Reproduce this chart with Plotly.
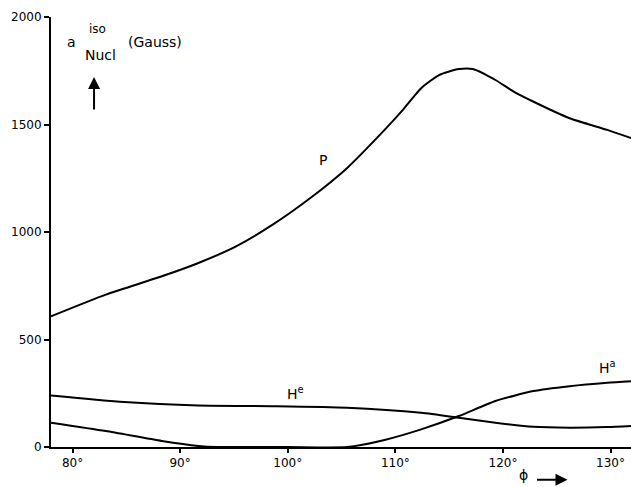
import plotly.graph_objects as go

# phi angle (degrees)
phi_P = [78.0, 83.1, 88.3, 91.7, 95.2, 98.6, 102.1, 105.5, 109.0, 110.7, 112.4, 114.1, 115.9, 117.2, 119.3, 121.0, 122.8, 126.2, 129.7, 131.9]
a_P = [608, 709, 794, 856, 933, 1034, 1158, 1297, 1475, 1568, 1669, 1731, 1758, 1758, 1707, 1653, 1607, 1529, 1475, 1437]

phi_He = [78.0, 84.8, 91.7, 98.6, 105.5, 112.4, 115.9, 119.3, 122.8, 126.2, 129.7, 131.9]
a_He = [240, 209, 193, 190, 183, 159, 136, 113, 94, 90, 93, 98]

phi_Ha = [78.0, 83.1, 88.3, 91.7, 93.4, 100.0, 105.5, 109.0, 112.4, 115.9, 119.3, 122.8, 126.2, 129.7, 131.9]
a_Ha = [113, 74, 28, 5, 0, 0, 0, 33, 82, 144, 214, 260, 283, 299, 306]

x_ticks = [80, 90, 100, 110, 120, 130]
x_ticklabels = ["80°", "90°", "100°", "110°", "120°", "130°"]
y_ticks = [0, 500, 1000, 1500, 2000]

FONT = "DejaVu Sans"
line = dict(color="black", width=2, shape="spline", smoothing=0.6)

fig = go.Figure()
fig.add_trace(go.Scatter(x=phi_P, y=a_P, mode="lines", line=line, name="P"))
fig.add_trace(go.Scatter(x=phi_He, y=a_He, mode="lines", line=line, name="He"))
fig.add_trace(go.Scatter(x=phi_Ha, y=a_Ha, mode="lines", line=line, name="Ha"))

tf = dict(family=FONT, size=12, color="black")
ann = []
def txt(x, y, t, size=12, xref="x", yref="y", xanchor="center", yanchor="middle"):
    ann.append(dict(x=x, y=y, xref=xref, yref=yref, text=t, showarrow=False,
                    font=dict(family=FONT, size=size, color="black"), xanchor=xanchor, yanchor=yanchor))

txt(103.3, 1336, "P", 14)
txt(100.7, 250, "H<sup>e</sup>", 14)
txt(129.7, 370, "H<sup>a</sup>", 14)
txt(79.9, 1884, "a", 14)
txt(82.3, 1945, "iso", 12)
txt(82.6, 1823, "Nucl", 14)
txt(87.7, 1884, "(Gauss)", 14)
txt(121.9, -0.0895, "ϕ", 14, yref="paper", yanchor="bottom")

ann.append(dict(x=126.0, y=-0.076, xref="x", yref="paper", text="", showarrow=True,
                ax=-32, ay=0, arrowhead=2, arrowsize=1.2, arrowwidth=2, arrowcolor="black"))
ann.append(dict(x=82.0, y=1721, xref="x", yref="y", text="", showarrow=True,
                ax=0, ay=34, arrowhead=2, arrowsize=1.2, arrowwidth=2, arrowcolor="black"))

fig.update_layout(
    width=631, height=487,
    margin=dict(l=51, r=0, t=17, b=40),
    paper_bgcolor="white", plot_bgcolor="white",
    showlegend=False,
    annotations=ann,
    font=tf,
)
fig.update_xaxes(range=[78.0, 131.9], tickvals=x_ticks, ticktext=x_ticklabels,
                 showgrid=False, zeroline=False, showline=True, linecolor="black", linewidth=2,
                 ticks="outside", ticklen=4, tickwidth=2, tickcolor="black",
                 tickfont=dict(family=FONT, size=12, color="black"))
fig.update_yaxes(range=[0, 2000], tickvals=y_ticks,
                 showgrid=False, zeroline=False, showline=True, linecolor="black", linewidth=2,
                 ticks="outside", ticklen=5, tickwidth=2, tickcolor="black",
                 tickfont=dict(family=FONT, size=12, color="black"))

fig.write_html("out.html")
